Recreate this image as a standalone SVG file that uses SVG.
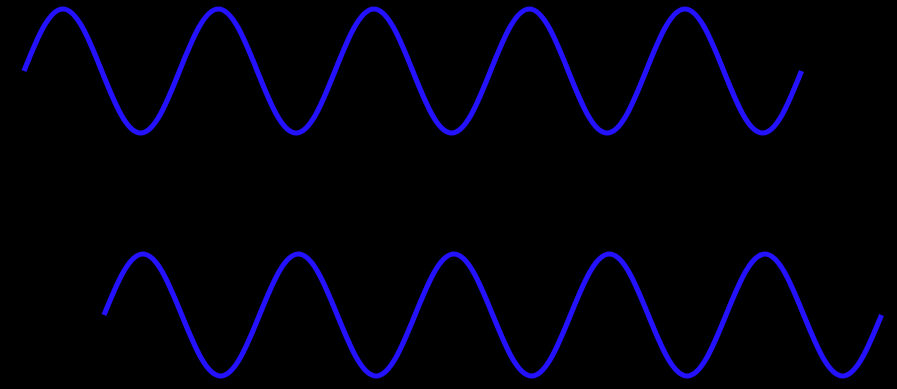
<svg xmlns="http://www.w3.org/2000/svg" width="897" height="389" viewBox="0 0 897 389">
<style>
.wave{fill:none;stroke:#2412ff;stroke-width:5.2;stroke-linecap:butt;stroke-linejoin:round}
</style>
<rect width="897" height="389" fill="#000"/>
<g id="wave-top">
<path class="wave" d="M24,71 c13,-32.56 24.95,-62 38.875,-62
s25.87,29.44 38.875,62 s24.95,62 38.875,62 s25.87,-29.44 38.875,-62
s24.95,-62 38.875,-62 s25.87,29.44 38.875,62 s24.95,62 38.875,62 s25.87,-29.44 38.875,-62
s24.95,-62 38.875,-62 s25.87,29.44 38.875,62 s24.95,62 38.875,62 s25.87,-29.44 38.875,-62
s24.95,-62 38.875,-62 s25.87,29.44 38.875,62 s24.95,62 38.875,62 s25.87,-29.44 38.875,-62
s24.95,-62 38.875,-62 s25.87,29.44 38.875,62 s24.95,62 38.875,62 s25.87,-29.44 38.875,-62"/>
</g>
<g id="wave-bottom">
<path class="wave" d="M104,315 c13,-32.03 24.95,-61 38.875,-61
s25.87,28.97 38.875,61 s24.95,61 38.875,61 s25.87,-28.97 38.875,-61
s24.95,-61 38.875,-61 s25.87,28.97 38.875,61 s24.95,61 38.875,61 s25.87,-28.97 38.875,-61
s24.95,-61 38.875,-61 s25.87,28.97 38.875,61 s24.95,61 38.875,61 s25.87,-28.97 38.875,-61
s24.95,-61 38.875,-61 s25.87,28.97 38.875,61 s24.95,61 38.875,61 s25.87,-28.97 38.875,-61
s24.95,-61 38.875,-61 s25.87,28.97 38.875,61 s24.95,61 38.875,61 s25.87,-28.97 38.875,-61"/>
</g>
<g id="connectors"/>
</svg>
